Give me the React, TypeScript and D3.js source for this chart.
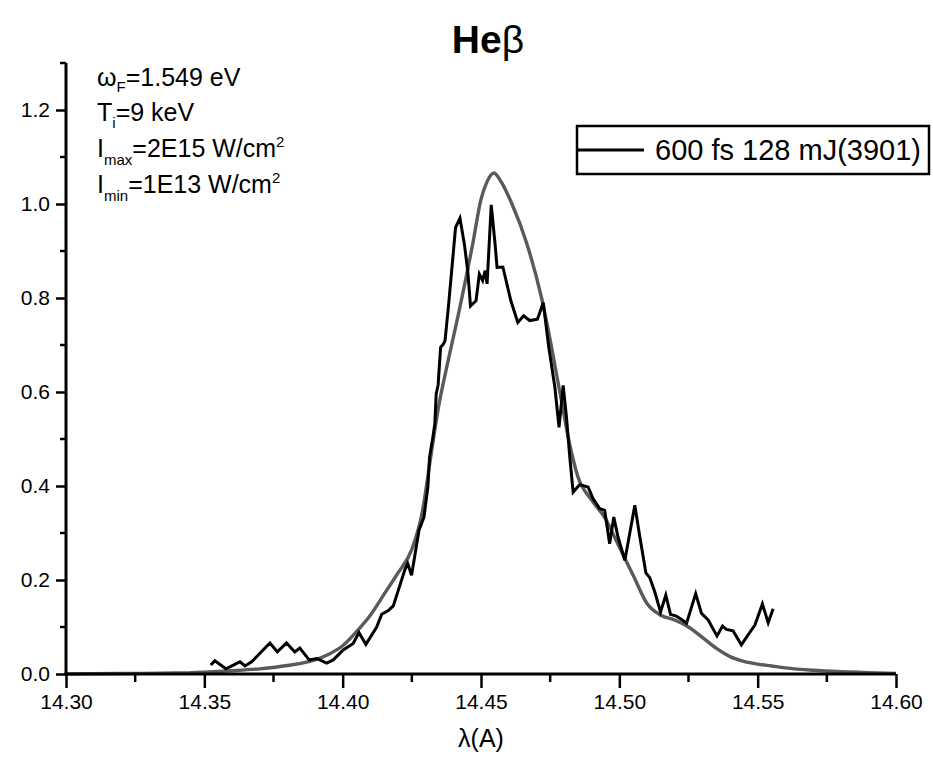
import { useEffect, useRef } from 'react';
import * as d3 from 'd3';

// measured spectrum (black)
const measLambda = [
  14.3523, 14.3538, 14.3578, 14.3605, 14.3629, 14.3647, 14.3671, 14.3701, 14.3737, 14.3764,
  14.3797, 14.3827, 14.3845, 14.3879, 14.3906, 14.3942, 14.3966, 14.4002, 14.4038, 14.4059,
  14.4084, 14.4123, 14.4141, 14.4165, 14.4183, 14.4201, 14.4225, 14.4235, 14.4249, 14.4276,
  14.4294, 14.4308, 14.4314, 14.4326, 14.4333, 14.4338, 14.4345, 14.4354, 14.4364, 14.4370,
  14.4382, 14.4394, 14.4408, 14.4424, 14.4440, 14.4452, 14.4462, 14.4482, 14.4494, 14.4506,
  14.4515, 14.4522, 14.4537, 14.4551, 14.4558, 14.4579, 14.4608, 14.4633, 14.4654, 14.4676,
  14.4704, 14.4725, 14.4745, 14.4767, 14.4782, 14.4797, 14.4809, 14.4821, 14.4833, 14.4857,
  14.4887, 14.4905, 14.4929, 14.4947, 14.4965, 14.4980, 14.4995, 14.5020, 14.5056, 14.5074,
  14.5096, 14.5110, 14.5128, 14.5149, 14.5168, 14.5185, 14.5206, 14.5225, 14.5243, 14.5276,
  14.5297, 14.5321, 14.5353, 14.5373, 14.5387, 14.5411, 14.5441, 14.5465, 14.5490, 14.5517,
  14.5538, 14.5556,
];
const measIntensity = [
  0.019, 0.028, 0.011, 0.019, 0.026, 0.017, 0.026, 0.044, 0.066, 0.047,
  0.066, 0.047, 0.055, 0.030, 0.033, 0.023, 0.030, 0.051, 0.065, 0.088,
  0.063, 0.100, 0.127, 0.135, 0.145, 0.178, 0.222, 0.235, 0.210, 0.306,
  0.334, 0.398, 0.461, 0.504, 0.532, 0.596, 0.615, 0.695, 0.702, 0.709,
  0.780, 0.858, 0.950, 0.970, 0.914, 0.858, 0.783, 0.794, 0.851, 0.837,
  0.858, 0.830, 0.998, 0.914, 0.865, 0.866, 0.794, 0.748, 0.762, 0.752,
  0.755, 0.790, 0.695, 0.610, 0.525, 0.614, 0.546, 0.461, 0.387, 0.403,
  0.398, 0.373, 0.352, 0.348, 0.277, 0.334, 0.292, 0.242, 0.359, 0.292,
  0.215, 0.205, 0.175, 0.132, 0.168, 0.127, 0.123, 0.116, 0.108, 0.171,
  0.129, 0.115, 0.081, 0.102, 0.095, 0.092, 0.062, 0.083, 0.104, 0.149,
  0.109, 0.139,
];

// model profile (grey)
const fitLambda = [
  14.300, 14.320, 14.340, 14.350, 14.360, 14.370, 14.380, 14.390, 14.395, 14.400,
  14.405, 14.410, 14.415, 14.420, 14.425, 14.4288, 14.4319, 14.4347, 14.4375, 14.442,
  14.447, 14.450, 14.452, 14.4547, 14.457, 14.4612, 14.4666, 14.4719, 14.4785, 14.482,
  14.485, 14.490, 14.495, 14.500, 14.505, 14.510, 14.515, 14.520, 14.525, 14.530,
  14.535, 14.540, 14.545, 14.550, 14.555, 14.560, 14.570, 14.580, 14.590, 14.600,
];
const fitIntensity = [
  0.000, 0.001, 0.002, 0.004, 0.007, 0.011, 0.018, 0.030, 0.042, 0.060,
  0.090, 0.125, 0.170, 0.215, 0.265, 0.345, 0.465, 0.570, 0.650, 0.770,
  0.915, 1.010, 1.045, 1.066, 1.050, 1.000, 0.915, 0.800, 0.600, 0.490,
  0.420, 0.370, 0.330, 0.270, 0.210, 0.150, 0.125, 0.115, 0.100, 0.078,
  0.055, 0.037, 0.027, 0.021, 0.017, 0.013, 0.008, 0.005, 0.003, 0.001,
];

const xTicks = [14.30, 14.35, 14.40, 14.45, 14.50, 14.55, 14.60];
const xMinor = [14.325, 14.375, 14.425, 14.475, 14.525, 14.575];
const yTicks = [0, 0.2, 0.4, 0.6, 0.8, 1.0, 1.2];
const yMinor = [0.1, 0.3, 0.5, 0.7, 0.9, 1.1, 1.3];
const legendLabel = '600 fs 128 mJ(3901)';

const FONT = '"Liberation Sans", Arial, sans-serif';

const App = () => {
  const ref = useRef(null);

  useEffect(() => {
    const W = 933, H = 758;
    const svg = d3.select(ref.current);
    svg.selectAll('*').remove();
    svg.attr('width', W).attr('height', H).style('font-family', FONT);

    const x = d3.scaleLinear().domain([14.30, 14.60]).range([66, 896]);
    const y = d3.scaleLinear().domain([0, 1.3]).range([674, 63]);

    svg.append('rect').attr('width', W).attr('height', H).attr('fill', 'white');

    // curves
    const meas = measLambda.map((l, i) => [l, measIntensity[i]]);
    const fit = fitLambda.map((l, i) => [l, fitIntensity[i]]);

    svg.append('path')
       .datum(fit)
       .attr('fill', 'none')
       .attr('stroke', '#5a5a5a')
       .attr('stroke-width', 3.4)
       .attr('d', d3.line().x(d => x(d[0])).y(d => y(d[1])).curve(d3.curveMonotoneX));

    svg.append('path')
       .datum(meas)
       .attr('fill', 'none')
       .attr('stroke', '#000')
       .attr('stroke-width', 3)
       .attr('d', d3.line().x(d => x(d[0])).y(d => y(d[1])));

    // x axis
    const gx = svg.append('g').attr('transform', `translate(0,${y(0)})`);
    gx.call(d3.axisBottom(x).tickValues(xTicks).tickFormat(d3.format('.2f')).tickSize(14).tickPadding(6));
    xMinor.forEach(v => {
      gx.append('line').attr('x1', x(v)).attr('x2', x(v)).attr('y1', 0).attr('y2', 8)
        .attr('stroke', '#000').attr('stroke-width', 2.5);
    });

    // y axis
    const gy = svg.append('g').attr('transform', `translate(${x(14.30)},0)`);
    gy.call(d3.axisLeft(y).tickValues(yTicks).tickFormat(d3.format('.1f')).tickSize(10).tickPadding(6));
    yMinor.forEach(v => {
      gy.append('line').attr('x1', -6).attr('x2', 0).attr('y1', y(v)).attr('y2', y(v))
        .attr('stroke', '#000').attr('stroke-width', 2.5);
    });

    [gx, gy].forEach(g => {
      g.select('.domain').remove();
      g.selectAll('.tick line').attr('stroke-width', 2.5);
      g.selectAll('.tick text').attr('font-size', 21).attr('font-family', FONT).attr('fill', '#000');
    });
    svg.append('line').attr('x1', x(14.30) - 1.5).attr('x2', x(14.60)).attr('y1', y(0)).attr('y2', y(0))
       .attr('stroke', '#000').attr('stroke-width', 3);
    svg.append('line').attr('x1', x(14.30)).attr('x2', x(14.30)).attr('y1', y(0) + 1.5).attr('y2', y(1.3))
       .attr('stroke', '#000').attr('stroke-width', 3);

    // x title
    svg.append('text').attr('x', 481).attr('y', 747).attr('text-anchor', 'middle')
       .attr('font-size', 25).text('λ(A)');

    // title
    const t = svg.append('text').attr('x', 488).attr('y', 53).attr('text-anchor', 'middle').attr('font-size', 39);
    t.append('tspan').attr('font-weight', 'bold').text('He');
    t.append('tspan').text('β');

    // annotation
    const ann = svg.append('g').attr('font-size', 25);
    const a1 = ann.append('text').attr('x', 97).attr('y', 86);
    a1.append('tspan').text('ω');
    a1.append('tspan').attr('font-size', 15).attr('dy', 6).text('F');
    a1.append('tspan').attr('dy', -6).text('=1.549 eV');

    const a2 = ann.append('text').attr('x', 97).attr('y', 121);
    a2.append('tspan').text('T');
    a2.append('tspan').attr('font-size', 15).attr('dy', 7).text('i');
    a2.append('tspan').attr('dy', -7).text('=9 keV');

    const a3 = ann.append('text').attr('x', 97).attr('y', 157);
    a3.append('tspan').text('I');
    a3.append('tspan').attr('font-size', 15).attr('dy', 8).text('max');
    a3.append('tspan').attr('dy', -8).text('=2E15 W/cm');
    a3.append('tspan').attr('font-size', 15).attr('dy', -10).text('2');

    const a4 = ann.append('text').attr('x', 97).attr('y', 193);
    a4.append('tspan').text('I');
    a4.append('tspan').attr('font-size', 15).attr('dy', 8).text('min');
    a4.append('tspan').attr('dy', -8).text('=1E13 W/cm');
    a4.append('tspan').attr('font-size', 15).attr('dy', -10).text('2');

    // legend
    svg.append('rect').attr('x', 577).attr('y', 126).attr('width', 352).attr('height', 48)
       .attr('fill', 'white').attr('stroke', '#000').attr('stroke-width', 2.5);
    svg.append('line').attr('x1', 578).attr('x2', 644).attr('y1', 150).attr('y2', 150)
       .attr('stroke', '#000').attr('stroke-width', 3);
    svg.append('text').attr('x', 655).attr('y', 160).attr('font-size', 29).text(legendLabel);
  }, []);

  return <svg ref={ref} style={{ position: 'absolute', left: 0, top: 0, display: 'block' }}></svg>;
};

export default App;
